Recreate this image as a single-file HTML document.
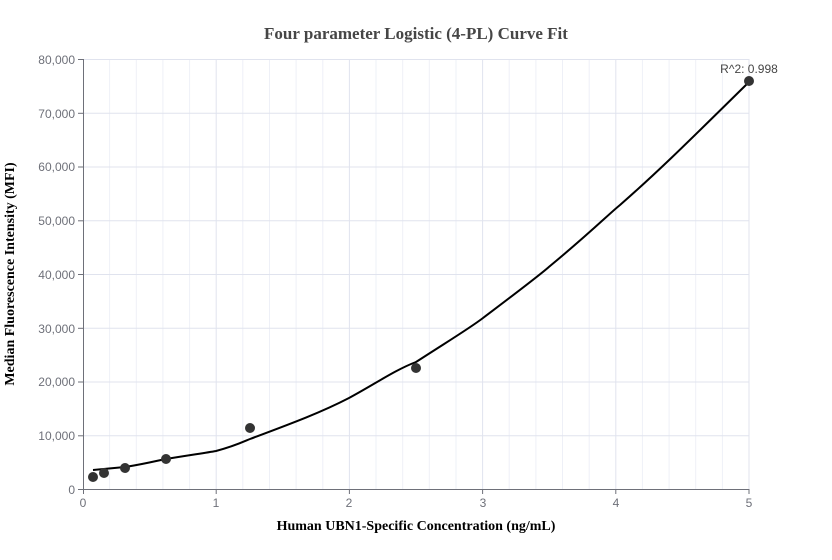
<!DOCTYPE html>
<html><head><meta charset="utf-8"><style>body{margin:0;background:#fff}svg{display:block}</style></head><body>
<svg width="832" height="560" xmlns="http://www.w3.org/2000/svg" font-family="Liberation Sans, sans-serif">
<rect width="832" height="560" fill="#fff"/>
<g stroke="#eef0f7" stroke-width="1">
<line x1="109.6" y1="59" x2="109.6" y2="489"/><line x1="136.3" y1="59" x2="136.3" y2="489"/><line x1="162.9" y1="59" x2="162.9" y2="489"/><line x1="189.6" y1="59" x2="189.6" y2="489"/>
<line x1="242.8" y1="59" x2="242.8" y2="489"/><line x1="269.5" y1="59" x2="269.5" y2="489"/><line x1="296.1" y1="59" x2="296.1" y2="489"/><line x1="322.8" y1="59" x2="322.8" y2="489"/>
<line x1="376" y1="59" x2="376" y2="489"/><line x1="402.7" y1="59" x2="402.7" y2="489"/><line x1="429.3" y1="59" x2="429.3" y2="489"/><line x1="456" y1="59" x2="456" y2="489"/>
<line x1="509.2" y1="59" x2="509.2" y2="489"/><line x1="535.9" y1="59" x2="535.9" y2="489"/><line x1="562.5" y1="59" x2="562.5" y2="489"/><line x1="589.2" y1="59" x2="589.2" y2="489"/>
<line x1="642.4" y1="59" x2="642.4" y2="489"/><line x1="669.1" y1="59" x2="669.1" y2="489"/><line x1="695.7" y1="59" x2="695.7" y2="489"/><line x1="722.4" y1="59" x2="722.4" y2="489"/>
</g>
<g stroke="#e0e3ee" stroke-width="1">
<line x1="216.2" y1="59" x2="216.2" y2="489"/><line x1="349.4" y1="59" x2="349.4" y2="489"/><line x1="482.6" y1="59" x2="482.6" y2="489"/><line x1="615.8" y1="59" x2="615.8" y2="489"/><line x1="749" y1="59" x2="749" y2="489"/>
<line x1="83" y1="59.5" x2="749" y2="59.5"/><line x1="83" y1="113.3" x2="749" y2="113.3"/><line x1="83" y1="167" x2="749" y2="167"/><line x1="83" y1="220.8" x2="749" y2="220.8"/><line x1="83" y1="274.5" x2="749" y2="274.5"/><line x1="83" y1="328.3" x2="749" y2="328.3"/><line x1="83" y1="382" x2="749" y2="382"/><line x1="83" y1="435.8" x2="749" y2="435.8"/>
</g>
<line x1="83.5" y1="59" x2="83.5" y2="489" stroke="#6e7079"/>
<line x1="83" y1="489.5" x2="749" y2="489.5" stroke="#6e7079"/>
<g stroke="#6e7079">
<line x1="78" y1="59.5" x2="83" y2="59.5"/><line x1="78" y1="113.3" x2="83" y2="113.3"/><line x1="78" y1="167" x2="83" y2="167"/><line x1="78" y1="220.8" x2="83" y2="220.8"/><line x1="78" y1="274.5" x2="83" y2="274.5"/><line x1="78" y1="328.3" x2="83" y2="328.3"/><line x1="78" y1="382" x2="83" y2="382"/><line x1="78" y1="435.8" x2="83" y2="435.8"/><line x1="78" y1="489.5" x2="83" y2="489.5"/>
<line x1="83.5" y1="489" x2="83.5" y2="494"/><line x1="216.2" y1="489" x2="216.2" y2="494"/><line x1="349.4" y1="489" x2="349.4" y2="494"/><line x1="482.6" y1="489" x2="482.6" y2="494"/><line x1="615.8" y1="489" x2="615.8" y2="494"/><line x1="749" y1="489" x2="749" y2="494"/>
</g>
<g fill="#6e7079" font-size="12" text-anchor="end">
<text x="75" y="64">80,000</text><text x="75" y="118">70,000</text><text x="75" y="171">60,000</text><text x="75" y="225">50,000</text><text x="75" y="279">40,000</text><text x="75" y="333">30,000</text><text x="75" y="386">20,000</text><text x="75" y="440">10,000</text><text x="75" y="494">0</text>
</g>
<g fill="#6e7079" font-size="12" text-anchor="middle">
<text x="83" y="507">0</text><text x="216" y="507">1</text><text x="349" y="507">2</text><text x="483" y="507">3</text><text x="616" y="507">4</text><text x="749" y="507">5</text>
</g>
<text x="416" y="39" text-anchor="middle" font-family="Liberation Serif, serif" font-weight="bold" font-size="17" fill="#464646">Four parameter Logistic (4-PL) Curve Fit</text>
<text x="416" y="530" text-anchor="middle" font-family="Liberation Serif, serif" font-weight="bold" font-size="14" fill="#000">Human UBN1-Specific Concentration (ng/mL)</text>
<text transform="translate(14,274) rotate(-90)" text-anchor="middle" font-family="Liberation Serif, serif" font-weight="bold" font-size="14" fill="#000">Median Fluorescence Intensity (MFI)</text>
<path d="M93,470 L125,467 C145,464 160,460 166,459 C190,455 205,453 216,451 C235,446 245,441 250,439 C290,424 320,413 349,398 C375,384 395,370 416,362 C450,340 470,328 483,318 C520,290 540,275 550,266 C590,233 610,213 620,205 C660,170 690,140 749,82" fill="none" stroke="#000" stroke-width="2"/>
<g fill="#333">
<circle cx="93" cy="477" r="5"/><circle cx="104" cy="473" r="5"/><circle cx="125" cy="468" r="5"/><circle cx="166" cy="459" r="5"/><circle cx="250" cy="428" r="5"/><circle cx="416" cy="368" r="5"/><circle cx="749" cy="81" r="5"/>
</g>
<text x="749" y="73" text-anchor="middle" font-size="12" fill="#464646">R^2: 0.998</text>
</svg>
</body></html>
